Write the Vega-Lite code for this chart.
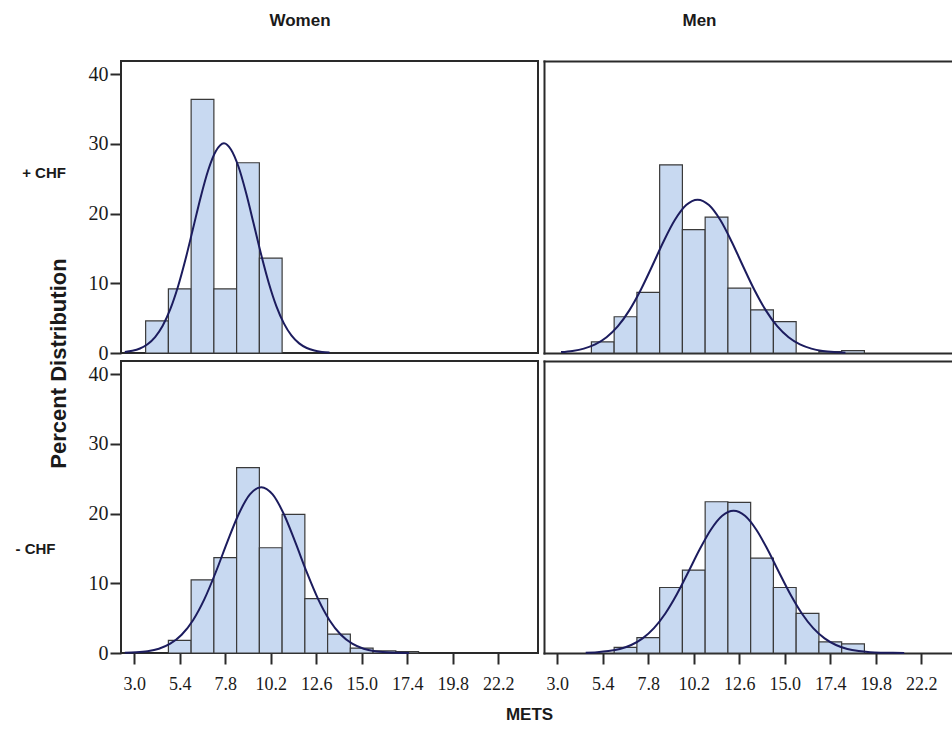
{
  "$schema": "https://vega.github.io/schema/vega-lite/v6.json",
  "padding": {"left": 14, "top": 11, "right": 0, "bottom": 0},
  "background": "white",
  "config": {
    "view": {"stroke": "#2a2a2a", "strokeWidth": 2},
    "axis": {"grid": false, "labelFont": "Liberation Serif", "labelColor": "#1a1a1a", "tickColor": "#2a2a2a", "tickWidth": 2, "domainColor": "#2a2a2a", "domainWidth": 2, "domainCap": "square", "titleFont": "Liberation Sans", "titleFontWeight": "bold", "titleColor": "#1a1a1a"},
    "title": {"font": "Liberation Sans", "fontWeight": "bold", "fontSize": 17, "color": "#1a1a1a"}
  },
  "datasets": {
    "bars": [
      {"sex": "Women", "chf": "+", "x0": 3.6, "x1": 4.8, "pct": 4.6},
      {"sex": "Women", "chf": "+", "x0": 4.8, "x1": 6.0, "pct": 9.2},
      {"sex": "Women", "chf": "+", "x0": 6.0, "x1": 7.2, "pct": 36.4},
      {"sex": "Women", "chf": "+", "x0": 7.2, "x1": 8.4, "pct": 9.2},
      {"sex": "Women", "chf": "+", "x0": 8.4, "x1": 9.6, "pct": 27.3},
      {"sex": "Women", "chf": "+", "x0": 9.6, "x1": 10.8, "pct": 13.6},
      {"sex": "Men", "chf": "+", "x0": 4.8, "x1": 6.0, "pct": 1.6},
      {"sex": "Men", "chf": "+", "x0": 6.0, "x1": 7.2, "pct": 5.2},
      {"sex": "Men", "chf": "+", "x0": 7.2, "x1": 8.4, "pct": 8.7},
      {"sex": "Men", "chf": "+", "x0": 8.4, "x1": 9.6, "pct": 27.0},
      {"sex": "Men", "chf": "+", "x0": 9.6, "x1": 10.8, "pct": 17.7},
      {"sex": "Men", "chf": "+", "x0": 10.8, "x1": 12.0, "pct": 19.5},
      {"sex": "Men", "chf": "+", "x0": 12.0, "x1": 13.2, "pct": 9.3},
      {"sex": "Men", "chf": "+", "x0": 13.2, "x1": 14.4, "pct": 6.2},
      {"sex": "Men", "chf": "+", "x0": 14.4, "x1": 15.6, "pct": 4.5},
      {"sex": "Men", "chf": "+", "x0": 16.8, "x1": 18.0, "pct": 0.2},
      {"sex": "Men", "chf": "+", "x0": 18.0, "x1": 19.2, "pct": 0.35},
      {"sex": "Women", "chf": "-", "x0": 4.8, "x1": 6.0, "pct": 1.8},
      {"sex": "Women", "chf": "-", "x0": 6.0, "x1": 7.2, "pct": 10.5},
      {"sex": "Women", "chf": "-", "x0": 7.2, "x1": 8.4, "pct": 13.7},
      {"sex": "Women", "chf": "-", "x0": 8.4, "x1": 9.6, "pct": 26.6},
      {"sex": "Women", "chf": "-", "x0": 9.6, "x1": 10.8, "pct": 15.1},
      {"sex": "Women", "chf": "-", "x0": 10.8, "x1": 12.0, "pct": 19.9},
      {"sex": "Women", "chf": "-", "x0": 12.0, "x1": 13.2, "pct": 7.8},
      {"sex": "Women", "chf": "-", "x0": 13.2, "x1": 14.4, "pct": 2.7},
      {"sex": "Women", "chf": "-", "x0": 14.4, "x1": 15.6, "pct": 0.7},
      {"sex": "Women", "chf": "-", "x0": 15.6, "x1": 16.8, "pct": 0.3},
      {"sex": "Women", "chf": "-", "x0": 16.8, "x1": 18.0, "pct": 0.2},
      {"sex": "Men", "chf": "-", "x0": 6.0, "x1": 7.2, "pct": 0.8},
      {"sex": "Men", "chf": "-", "x0": 7.2, "x1": 8.4, "pct": 2.2},
      {"sex": "Men", "chf": "-", "x0": 8.4, "x1": 9.6, "pct": 9.4},
      {"sex": "Men", "chf": "-", "x0": 9.6, "x1": 10.8, "pct": 11.9},
      {"sex": "Men", "chf": "-", "x0": 10.8, "x1": 12.0, "pct": 21.7},
      {"sex": "Men", "chf": "-", "x0": 12.0, "x1": 13.2, "pct": 21.6},
      {"sex": "Men", "chf": "-", "x0": 13.2, "x1": 14.4, "pct": 13.6},
      {"sex": "Men", "chf": "-", "x0": 14.4, "x1": 15.6, "pct": 9.4},
      {"sex": "Men", "chf": "-", "x0": 15.6, "x1": 16.8, "pct": 5.7},
      {"sex": "Men", "chf": "-", "x0": 16.8, "x1": 18.0, "pct": 1.6},
      {"sex": "Men", "chf": "-", "x0": 18.0, "x1": 19.2, "pct": 1.3}
    ],
    "curve": [
      {"sex": "Women", "chf": "+", "mets": 2.5, "pct": 0.14},
      {"sex": "Women", "chf": "+", "mets": 2.9, "pct": 0.31},
      {"sex": "Women", "chf": "+", "mets": 3.3, "pct": 0.65},
      {"sex": "Women", "chf": "+", "mets": 3.7, "pct": 1.26},
      {"sex": "Women", "chf": "+", "mets": 4.1, "pct": 2.29},
      {"sex": "Women", "chf": "+", "mets": 4.5, "pct": 3.91},
      {"sex": "Women", "chf": "+", "mets": 4.9, "pct": 6.28},
      {"sex": "Women", "chf": "+", "mets": 5.3, "pct": 9.47},
      {"sex": "Women", "chf": "+", "mets": 5.7, "pct": 13.41},
      {"sex": "Women", "chf": "+", "mets": 6.1, "pct": 17.85},
      {"sex": "Women", "chf": "+", "mets": 6.5, "pct": 22.33},
      {"sex": "Women", "chf": "+", "mets": 6.9, "pct": 26.22},
      {"sex": "Women", "chf": "+", "mets": 7.3, "pct": 28.94},
      {"sex": "Women", "chf": "+", "mets": 7.73, "pct": 30.1},
      {"sex": "Women", "chf": "+", "mets": 8.1, "pct": 29.21},
      {"sex": "Women", "chf": "+", "mets": 8.5, "pct": 26.72},
      {"sex": "Women", "chf": "+", "mets": 8.9, "pct": 22.96},
      {"sex": "Women", "chf": "+", "mets": 9.3, "pct": 18.54},
      {"sex": "Women", "chf": "+", "mets": 9.7, "pct": 14.06},
      {"sex": "Women", "chf": "+", "mets": 10.1, "pct": 10.02},
      {"sex": "Women", "chf": "+", "mets": 10.5, "pct": 6.7},
      {"sex": "Women", "chf": "+", "mets": 10.9, "pct": 4.22},
      {"sex": "Women", "chf": "+", "mets": 11.3, "pct": 2.49},
      {"sex": "Women", "chf": "+", "mets": 11.7, "pct": 1.38},
      {"sex": "Women", "chf": "+", "mets": 12.1, "pct": 0.72},
      {"sex": "Women", "chf": "+", "mets": 12.5, "pct": 0.35},
      {"sex": "Women", "chf": "+", "mets": 12.9, "pct": 0.16},
      {"sex": "Women", "chf": "+", "mets": 13.3, "pct": 0.07},
      {"sex": "Men", "chf": "+", "mets": 3.2, "pct": 0.13},
      {"sex": "Men", "chf": "+", "mets": 3.8, "pct": 0.3},
      {"sex": "Men", "chf": "+", "mets": 4.4, "pct": 0.63},
      {"sex": "Men", "chf": "+", "mets": 5.0, "pct": 1.23},
      {"sex": "Men", "chf": "+", "mets": 5.6, "pct": 2.26},
      {"sex": "Men", "chf": "+", "mets": 6.2, "pct": 3.85},
      {"sex": "Men", "chf": "+", "mets": 6.8, "pct": 6.12},
      {"sex": "Men", "chf": "+", "mets": 7.4, "pct": 9.04},
      {"sex": "Men", "chf": "+", "mets": 8.0, "pct": 12.45},
      {"sex": "Men", "chf": "+", "mets": 8.6, "pct": 15.97},
      {"sex": "Men", "chf": "+", "mets": 9.2, "pct": 19.08},
      {"sex": "Men", "chf": "+", "mets": 9.8, "pct": 21.23},
      {"sex": "Men", "chf": "+", "mets": 10.4, "pct": 22.0},
      {"sex": "Men", "chf": "+", "mets": 11.0, "pct": 21.23},
      {"sex": "Men", "chf": "+", "mets": 11.6, "pct": 19.08},
      {"sex": "Men", "chf": "+", "mets": 12.2, "pct": 15.97},
      {"sex": "Men", "chf": "+", "mets": 12.8, "pct": 12.45},
      {"sex": "Men", "chf": "+", "mets": 13.4, "pct": 9.04},
      {"sex": "Men", "chf": "+", "mets": 14.0, "pct": 6.12},
      {"sex": "Men", "chf": "+", "mets": 14.6, "pct": 3.85},
      {"sex": "Men", "chf": "+", "mets": 15.2, "pct": 2.26},
      {"sex": "Men", "chf": "+", "mets": 15.8, "pct": 1.23},
      {"sex": "Men", "chf": "+", "mets": 16.4, "pct": 0.63},
      {"sex": "Men", "chf": "+", "mets": 17.0, "pct": 0.3},
      {"sex": "Men", "chf": "+", "mets": 17.6, "pct": 0.13},
      {"sex": "Men", "chf": "+", "mets": 18.2, "pct": 0.05},
      {"sex": "Women", "chf": "-", "mets": 2.5, "pct": 0.04},
      {"sex": "Women", "chf": "-", "mets": 3.1, "pct": 0.1},
      {"sex": "Women", "chf": "-", "mets": 3.7, "pct": 0.26},
      {"sex": "Women", "chf": "-", "mets": 4.3, "pct": 0.62},
      {"sex": "Women", "chf": "-", "mets": 4.9, "pct": 1.34},
      {"sex": "Women", "chf": "-", "mets": 5.5, "pct": 2.62},
      {"sex": "Women", "chf": "-", "mets": 6.1, "pct": 4.71},
      {"sex": "Women", "chf": "-", "mets": 6.7, "pct": 7.73},
      {"sex": "Women", "chf": "-", "mets": 7.3, "pct": 11.59},
      {"sex": "Women", "chf": "-", "mets": 7.9, "pct": 15.87},
      {"sex": "Women", "chf": "-", "mets": 8.5, "pct": 19.88},
      {"sex": "Women", "chf": "-", "mets": 9.1, "pct": 22.75},
      {"sex": "Women", "chf": "-", "mets": 9.7, "pct": 23.8},
      {"sex": "Women", "chf": "-", "mets": 10.3, "pct": 22.75},
      {"sex": "Women", "chf": "-", "mets": 10.9, "pct": 19.88},
      {"sex": "Women", "chf": "-", "mets": 11.5, "pct": 15.87},
      {"sex": "Women", "chf": "-", "mets": 12.1, "pct": 11.59},
      {"sex": "Women", "chf": "-", "mets": 12.7, "pct": 7.73},
      {"sex": "Women", "chf": "-", "mets": 13.3, "pct": 4.71},
      {"sex": "Women", "chf": "-", "mets": 13.9, "pct": 2.62},
      {"sex": "Women", "chf": "-", "mets": 14.5, "pct": 1.34},
      {"sex": "Women", "chf": "-", "mets": 15.1, "pct": 0.62},
      {"sex": "Women", "chf": "-", "mets": 15.7, "pct": 0.26},
      {"sex": "Women", "chf": "-", "mets": 16.3, "pct": 0.1},
      {"sex": "Women", "chf": "-", "mets": 16.9, "pct": 0.04},
      {"sex": "Women", "chf": "-", "mets": 17.5, "pct": 0.01},
      {"sex": "Men", "chf": "-", "mets": 4.5, "pct": 0.05},
      {"sex": "Men", "chf": "-", "mets": 5.1, "pct": 0.12},
      {"sex": "Men", "chf": "-", "mets": 5.7, "pct": 0.28},
      {"sex": "Men", "chf": "-", "mets": 6.3, "pct": 0.58},
      {"sex": "Men", "chf": "-", "mets": 6.9, "pct": 1.15},
      {"sex": "Men", "chf": "-", "mets": 7.5, "pct": 2.1},
      {"sex": "Men", "chf": "-", "mets": 8.1, "pct": 3.57},
      {"sex": "Men", "chf": "-", "mets": 8.7, "pct": 5.67},
      {"sex": "Men", "chf": "-", "mets": 9.3, "pct": 8.39},
      {"sex": "Men", "chf": "-", "mets": 9.9, "pct": 11.55},
      {"sex": "Men", "chf": "-", "mets": 10.5, "pct": 14.81},
      {"sex": "Men", "chf": "-", "mets": 11.1, "pct": 17.69},
      {"sex": "Men", "chf": "-", "mets": 11.7, "pct": 19.69},
      {"sex": "Men", "chf": "-", "mets": 12.3, "pct": 20.4},
      {"sex": "Men", "chf": "-", "mets": 12.9, "pct": 19.69},
      {"sex": "Men", "chf": "-", "mets": 13.5, "pct": 17.69},
      {"sex": "Men", "chf": "-", "mets": 14.1, "pct": 14.81},
      {"sex": "Men", "chf": "-", "mets": 14.7, "pct": 11.55},
      {"sex": "Men", "chf": "-", "mets": 15.3, "pct": 8.39},
      {"sex": "Men", "chf": "-", "mets": 15.9, "pct": 5.67},
      {"sex": "Men", "chf": "-", "mets": 16.5, "pct": 3.57},
      {"sex": "Men", "chf": "-", "mets": 17.1, "pct": 2.1},
      {"sex": "Men", "chf": "-", "mets": 17.7, "pct": 1.15},
      {"sex": "Men", "chf": "-", "mets": 18.3, "pct": 0.58},
      {"sex": "Men", "chf": "-", "mets": 18.9, "pct": 0.28},
      {"sex": "Men", "chf": "-", "mets": 19.5, "pct": 0.12},
      {"sex": "Men", "chf": "-", "mets": 20.1, "pct": 0.05},
      {"sex": "Men", "chf": "-", "mets": 20.7, "pct": 0.02},
      {"sex": "Men", "chf": "-", "mets": 21.3, "pct": 0.01}
    ]
  },
  "columns": 2,
  "spacing": {"row": 8, "column": 6},
  "bounds": "flush",
  "resolve": {"scale": {"x": "independent", "y": "independent"}},
  "concat": [
    {
      "width": 417, "height": 292,
      "title": {"text": "Women", "frame": "group", "anchor": "middle", "dx": -29.5, "offset": 18, "baseline": "alphabetic"},
      "layer": [
        {
          "data": {"name": "bars"},
          "transform": [{"filter": "datum.sex === 'Women' && datum.chf === '+'"}],
          "mark": {"type": "bar", "fill": "#c8d9f1", "stroke": "#3a3a3a", "strokeWidth": 1.2},
          "encoding": {
            "x": {"field": "x0", "type": "quantitative", "scale": {"domain": [2.3, 24.3], "nice": false, "zero": false},
              "axis": {"orient": "bottom", "labels": false, "ticks": false, "domain": false, "title": "Percent Distribution", "titleAngle": -90, "titleX": -63, "titleY": 10, "titleAlign": "center", "titleBaseline": "middle", "titleFontSize": 22}},
            "x2": {"field": "x1"},
            "y": {"field": "pct", "type": "quantitative", "scale": {"domain": [0, 41.9], "nice": false},
              "axis": {"values": [0, 10, 20, 30, 40], "domain": false, "tickSize": 11, "labelPadding": 2, "labelFontSize": 20, "title": "+ CHF", "titleAngle": 0, "titleX": -77.5, "titleY": 111, "titleAlign": "center", "titleBaseline": "middle", "titleFontSize": 15}},
            "y2": {"datum": 0}
          }
        },
        {
          "data": {"name": "curve"},
          "transform": [{"filter": "datum.sex === 'Women' && datum.chf === '+'"}],
          "mark": {"type": "line", "color": "#1c1c5e", "strokeWidth": 2, "interpolate": "monotone"},
          "encoding": {
            "x": {"field": "mets", "type": "quantitative"},
            "y": {"field": "pct", "type": "quantitative"}
          }
        }
      ]
    },
    {
      "width": 408, "height": 292,
      "view": {"stroke": null},
      "title": {"text": "Men", "frame": "group", "anchor": "middle", "dx": -48.5, "offset": 18, "baseline": "alphabetic"},
      "resolve": {"axis": {"x": "independent"}},
      "layer": [
        {
          "data": {"name": "bars"},
          "transform": [{"filter": "datum.sex === 'Men' && datum.chf === '+'"}],
          "mark": {"type": "bar", "fill": "#c8d9f1", "stroke": "#3a3a3a", "strokeWidth": 1.2},
          "encoding": {
            "x": {"field": "x0", "type": "quantitative", "scale": {"domain": [2.3, 23.82], "nice": false, "zero": false},
              "axis": {"orient": "bottom", "labels": false, "ticks": false, "domain": true, "title": null}},
            "x2": {"field": "x1"},
            "y": {"field": "pct", "type": "quantitative", "scale": {"domain": [0, 41.9], "nice": false},
              "axis": {"orient": "left", "labels": false, "ticks": false, "domain": true, "title": null}},
            "y2": {"datum": 0}
          }
        },
        {
          "data": {"name": "curve"},
          "transform": [{"filter": "datum.sex === 'Men' && datum.chf === '+'"}],
          "mark": {"type": "line", "color": "#1c1c5e", "strokeWidth": 2, "interpolate": "monotone"},
          "encoding": {
            "x": {"field": "mets", "type": "quantitative", "axis": {"orient": "top", "labels": false, "ticks": false, "domain": true, "title": null}},
            "y": {"field": "pct", "type": "quantitative"}
          }
        }
      ]
    },
    {
      "width": 417, "height": 292,
      "layer": [
        {
          "data": {"name": "bars"},
          "transform": [{"filter": "datum.sex === 'Women' && datum.chf === '-'"}],
          "mark": {"type": "bar", "fill": "#c8d9f1", "stroke": "#3a3a3a", "strokeWidth": 1.2},
          "encoding": {
            "x": {"field": "x0", "type": "quantitative", "scale": {"domain": [2.3, 24.3], "nice": false, "zero": false},
              "axis": {"orient": "bottom", "values": [3.0, 5.4, 7.8, 10.2, 12.6, 15.0, 17.4, 19.8, 22.2], "format": ".1f", "domain": false, "tickSize": 11, "labelPadding": 11, "labelFontSize": 18, "title": "METS", "titleX": 408, "titleY": 61, "titleAlign": "center", "titleBaseline": "middle", "titleFontSize": 17}},
            "x2": {"field": "x1"},
            "y": {"field": "pct", "type": "quantitative", "scale": {"domain": [0, 41.9], "nice": false},
              "axis": {"values": [0, 10, 20, 30, 40], "domain": false, "tickSize": 11, "labelPadding": 2, "labelFontSize": 20, "title": "- CHF", "titleAngle": 0, "titleX": -86, "titleY": 187, "titleAlign": "center", "titleBaseline": "middle", "titleFontSize": 15}},
            "y2": {"datum": 0}
          }
        },
        {
          "data": {"name": "curve"},
          "transform": [{"filter": "datum.sex === 'Women' && datum.chf === '-'"}],
          "mark": {"type": "line", "color": "#1c1c5e", "strokeWidth": 2, "interpolate": "monotone"},
          "encoding": {
            "x": {"field": "mets", "type": "quantitative"},
            "y": {"field": "pct", "type": "quantitative"}
          }
        }
      ]
    },
    {
      "width": 408, "height": 292,
      "view": {"stroke": null},
      "resolve": {"axis": {"x": "independent"}},
      "layer": [
        {
          "data": {"name": "bars"},
          "transform": [{"filter": "datum.sex === 'Men' && datum.chf === '-'"}],
          "mark": {"type": "bar", "fill": "#c8d9f1", "stroke": "#3a3a3a", "strokeWidth": 1.2},
          "encoding": {
            "x": {"field": "x0", "type": "quantitative", "scale": {"domain": [2.3, 23.82], "nice": false, "zero": false},
              "axis": {"orient": "bottom", "values": [3.0, 5.4, 7.8, 10.2, 12.6, 15.0, 17.4, 19.8, 22.2], "format": ".1f", "domain": true, "tickSize": 11, "labelPadding": 11, "labelFontSize": 18, "title": null}},
            "x2": {"field": "x1"},
            "y": {"field": "pct", "type": "quantitative", "scale": {"domain": [0, 41.9], "nice": false},
              "axis": {"orient": "left", "labels": false, "ticks": false, "domain": true, "title": null}},
            "y2": {"datum": 0}
          }
        },
        {
          "data": {"name": "curve"},
          "transform": [{"filter": "datum.sex === 'Men' && datum.chf === '-'"}],
          "mark": {"type": "line", "color": "#1c1c5e", "strokeWidth": 2, "interpolate": "monotone"},
          "encoding": {
            "x": {"field": "mets", "type": "quantitative", "axis": {"orient": "top", "labels": false, "ticks": false, "domain": true, "title": null}},
            "y": {"field": "pct", "type": "quantitative"}
          }
        }
      ]
    }
  ]
}
